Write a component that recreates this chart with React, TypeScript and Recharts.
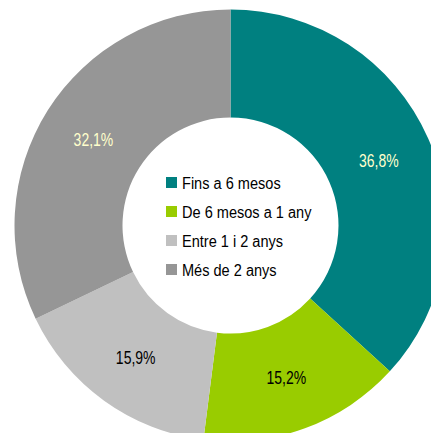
import { PieChart, Pie, Cell, Legend } from 'recharts';

const categories = ['Fins a 6 mesos', 'De 6 mesos a 1 any', 'Entre 1 i 2 anys', 'Més de 2 anys'];
const shares = [36.8, 15.2, 15.9, 32.1];
const colors = ['#008080', '#99cc00', '#c0c0c0', '#969696'];
const labelColors = ['#ffffcc', '#000000', '#000000', '#ffffcc'];

const data = categories.map((name, i) => ({ name, value: shares[i] }));

const FONT = '"Liberation Sans", Arial, sans-serif';
const RAD = Math.PI / 180;

function renderLabel(props: any) {
  const { cx, cy, midAngle, innerRadius, outerRadius, index, value } = props;
  const r = (innerRadius + outerRadius) / 2;
  const x = cx + r * Math.cos(-midAngle * RAD);
  const y = cy + r * Math.sin(-midAngle * RAD);
  return (
    <text
      transform={`translate(${x},${y}) scale(1,1.3)`}
      fill={labelColors[index]}
      textAnchor="middle"
      dominantBaseline="central"
      fontSize={14}
      fontFamily={FONT}
    >
      {value.toFixed(1).replace('.', ',')}%
    </text>
  );
}

// keep the data order, not the sorted legend payload
function renderLegend() {
  return (
    <div style={{ fontFamily: FONT, fontSize: 15, color: '#000' }}>
      {categories.map((name, i) => (
        <div key={name} style={{ display: 'flex', alignItems: 'center', height: 29 }}>
          <span style={{ display: 'inline-block', width: 11, height: 11, background: colors[i], marginRight: 5 }} />
          <span style={{ display: 'inline-block', transform: 'scale(0.97,1.15)', transformOrigin: 'left center' }}>
            {name}
          </span>
        </div>
      ))}
    </div>
  );
}

export default function App() {
  return (
    <div style={{ margin: -8, width: 439, height: 441 }}>
      <PieChart width={439} height={441} margin={{ top: 0, right: 0, bottom: 0, left: 0 }}>
        <Pie
          data={data}
          dataKey="value"
          nameKey="name"
          cx={230.5}
          cy={225.5}
          innerRadius={108}
          outerRadius={216}
          startAngle={90}
          endAngle={-270}
          stroke="none"
          label={renderLabel}
          labelLine={false}
          isAnimationActive={false}
        >
          {data.map((d, i) => (
            <Cell key={d.name} fill={colors[i]} />
          ))}
        </Pie>
        <Legend
          content={renderLegend}
          layout="vertical"
          wrapperStyle={{ left: 166, top: 168, width: 'auto', bottom: 'auto' }}
        />
      </PieChart>
    </div>
  );
}
